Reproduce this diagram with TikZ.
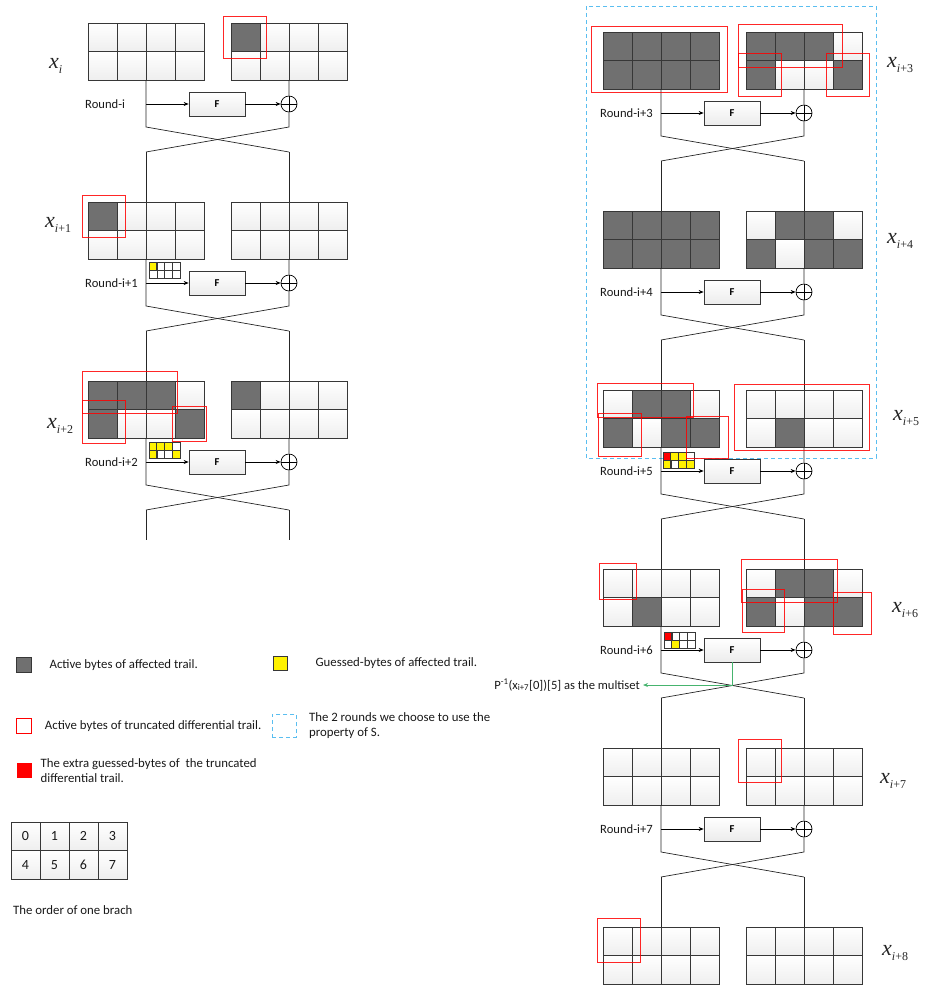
\documentclass[tikz,border=0pt]{standalone}
\usepackage{fontspec}
\setmainfont{Carlito}
\newfontfamily\statefont{Liberation Serif}
\usepackage{tikz}
\usetikzlibrary{positioning,arrows.meta,shapes}

\definecolor{activegray}{RGB}{112,112,112}
\definecolor{cellline}{RGB}{55,55,55}
\definecolor{roundcyan}{RGB}{90,190,240}
\definecolor{pathgreen}{RGB}{70,180,110}

% one branch: 4x2 bytes, #4 = active bytes
\newcommand{\branchblock}[4]{%
  \node[blockbox, anchor=north west] (#1) at (#2,#3) {};
  \foreach \cn in {0,...,7}{%
    \pgfmathsetmacro{\bx}{#2+29*mod(\cn,4)}%
    \pgfmathsetmacro{\by}{#3+28.5*int(\cn/4)}%
    \draw[cellbox] (\bx,\by) rectangle ++(29,28.5);}%
  \foreach \cn in {#4}{\ifx\cn\empty\else
    \pgfmathsetmacro{\bx}{#2+29*mod(\cn,4)}%
    \pgfmathsetmacro{\by}{#3+28.5*int(\cn/4)}%
    \draw[activecell] (\bx,\by) rectangle ++(29,28.5);\fi}%
}
% small grid of guessed bytes, #4 = yellow, #5 = red
\newcommand{\guessgrid}[5]{%
  \node[rectangle, minimum width=31pt, minimum height=16pt, inner sep=0pt,
        anchor=north west] (#1) at (#2,#3) {};
  \foreach \cn in {0,...,7}{%
    \pgfmathsetmacro{\gx}{#2+7.75*mod(\cn,4)}%
    \pgfmathsetmacro{\gy}{#3+8*int(\cn/4)}%
    \draw[guesscell] (\gx,\gy) rectangle ++(7.75,8);}%
  \foreach \cn in {#4}{\ifx\cn\empty\else
    \pgfmathsetmacro{\gx}{#2+7.75*mod(\cn,4)}%
    \pgfmathsetmacro{\gy}{#3+8*int(\cn/4)}%
    \draw[guessed] (\gx,\gy) rectangle ++(7.75,8);\fi}%
  \foreach \cn in {#5}{\ifx\cn\empty\else
    \pgfmathsetmacro{\gx}{#2+7.75*mod(\cn,4)}%
    \pgfmathsetmacro{\gy}{#3+8*int(\cn/4)}%
    \draw[extraguess] (\gx,\gy) rectangle ++(7.75,8);\fi}%
}
% state name x with subscript
\newcommand{\statename}[1]{\textit{x}\raisebox{-5pt}{\fontsize{12}{12}\selectfont #1}}

\begin{document}
\begin{tikzpicture}[x=1pt, y=-1pt,
    blockbox/.style={rectangle, minimum width=116pt, minimum height=57pt, inner sep=0pt, outer sep=0pt},
    cellbox/.style={draw=cellline, line width=0.8pt, top color=white, bottom color=gray!13},
    activecell/.style={draw=cellline, line width=0.8pt, fill=activegray},
    guesscell/.style={draw=cellline, line width=0.5pt, fill=white},
    guessed/.style={draw=cellline, line width=0.6pt, fill=yellow},
    extraguess/.style={draw=cellline, line width=0.6pt, fill=red},
    fbox/.style={rectangle, draw=cellline, line width=0.7pt, top color=white, bottom color=gray!15,
                 minimum width=56pt, minimum height=24pt, inner sep=0pt,
                 font=\fontsize{10.5}{12}\selectfont\bfseries},
    xor/.style={circle, draw, line width=0.7pt, minimum size=16pt, inner sep=0pt,
                path picture={\draw[line width=0.7pt] (path picture bounding box.north) -- (path picture bounding box.south)
                              (path picture bounding box.west) -- (path picture bounding box.east);}},
    arrow/.style={-{Stealth[length=5pt, width=4pt]}, line width=0.7pt},
    garrow/.style={-{Stealth[length=5pt, width=4pt]}, draw=pathgreen, line width=0.9pt},
    wire/.style={line width=0.7pt, draw=black!85},
    trunc/.style={draw=red, line width=0.9pt, opacity=0.85},
    roundlbl/.style={font=\fontsize{12.6}{14}\selectfont, text=black!90, anchor=west, inner sep=0pt},
    statelbl/.style={font=\statefont\fontsize{22}{22}\selectfont, text=black!85, anchor=base west, inner sep=0pt},
    legendtxt/.style={font=\fontsize{12.8}{15}\selectfont, text=black!90, anchor=west, inner sep=0pt, align=left},
    digit/.style={font=\fontsize{14}{14}\selectfont, text=black!90, inner sep=0pt}
]
\useasboundingbox (0,0) rectangle (926,994);

% The 2 rounds that use the property of S
\draw[roundcyan, line width=0.9pt, dash pattern=on 4pt off 3pt] (586,6) rectangle (876,458);

% Blocks - left column
\branchblock{bl0}{88}{23}{}
\branchblock{br0}{231}{23}{0}
\branchblock{bl1}{88}{202}{0}
\branchblock{br1}{231}{202}{}
\branchblock{bl2}{88}{381}{0,1,2,4,7}
\branchblock{br2}{231}{381}{0}

% Blocks - right column
\branchblock{bl3}{603}{32}{0,...,7}
\branchblock{br3}{746}{32}{0,1,2,4,7}
\branchblock{bl4}{603}{211}{0,...,7}
\branchblock{br4}{746}{211}{1,2,4,6,7}
\branchblock{bl5}{603}{390}{1,2,4,6,7}
\branchblock{br5}{746}{390}{5}
\branchblock{bl6}{603}{569}{5}
\branchblock{br6}{746}{569}{1,2,4,6,7}
\branchblock{bl7}{603}{748}{}
\branchblock{br7}{746}{748}{}
\branchblock{bl8}{603}{927}{}
\branchblock{br8}{746}{927}{}

% State labels
\node[statelbl] (xs0) at (49,68) {\statename{\itshape i}};
\node[statelbl] (xs1) at (45,227) {\statename{\itshape i\upshape+1}};
\node[statelbl] (xs2) at (47,428) {\statename{\itshape i\upshape+2}};
\node[statelbl] (xs3) at (887,67) {\statename{\itshape i\upshape+3}};
\node[statelbl] (xs4) at (887,243) {\statename{\itshape i\upshape+4}};
\node[statelbl] (xs5) at (893,420) {\statename{\itshape i\upshape+5}};
\node[statelbl] (xs6) at (892,612) {\statename{\itshape i\upshape+6}};
\node[statelbl] (xs7) at (880,783) {\statename{\itshape i\upshape+7}};
\node[statelbl] (xs8) at (882,955) {\statename{\itshape i\upshape+8}};

% Rounds: F, xor and the swap
\foreach \r/\lx/\ty/\rname in {0/146/23/i, 1/146/202/i+1, 2/146/381/i+2, 3/661/32/i+3,
    4/661/211/i+4, 5/661/390/i+5, 6/661/569/i+6, 7/661/748/i+7}{
  \node[fbox] (f\r) at (\lx+71,\ty+81) {F};
  \node[xor] (xor\r) at (\lx+143,\ty+81) {};
  \node[roundlbl] (rd\r) at (\lx-61,\ty+81) {Round-\rname};
  \coordinate (tap\r) at (\lx,\ty+81);
  \coordinate (cl\r) at (\lx,\ty+104);
  \coordinate (cr\r) at (\lx+143,\ty+104);
  \coordinate (dl\r) at (\lx,\ty+129);
  \coordinate (dr\r) at (\lx+143,\ty+129);
  \draw[arrow] (tap\r) -- (f\r);
  \draw[arrow] (f\r) -- (xor\r);
  \draw[wire] (bl\r.south) -- (cl\r) -- (dr\r);
  \draw[wire] (br\r.south) -- (xor\r) -- (cr\r) -- (dl\r);
}
\foreach \r/\nx in {0/1, 1/2, 3/4, 4/5, 5/6, 6/7, 7/8}{
  \draw[wire] (dl\r) -- (bl\nx.north);
  \draw[wire] (dr\r) -- (br\nx.north);
}
% left column runs on
\coordinate (endl) at (146,540);
\coordinate (endr) at (289,540);
\draw[wire] (dl2) -- (endl);
\draw[wire] (dr2) -- (endr);

% Guessed bytes
\guessgrid{gg1}{149}{262}{0}{}
\guessgrid{gg2}{149}{442}{0,1,2,4,7}{}
\guessgrid{gg5}{663}{452}{1,2,4,6,7}{0}
\guessgrid{gg6}{664}{632}{5}{0}

% Truncated differential trail
\draw[trunc] (223,16) rectangle (266,58);
\draw[trunc] (82,195) rectangle (125,237);
\draw[trunc] (82,371) rectangle (177,413);
\draw[trunc] (82,400) rectangle (125,443);
\draw[trunc] (172,406) rectangle (206,441);
\draw[trunc] (591,26) rectangle (727,92);
\draw[trunc] (738,24) rectangle (842,67);
\draw[trunc] (738,53) rectangle (781,96);
\draw[trunc] (826,53) rectangle (869,96);
\draw[trunc] (597,383) rectangle (693,417);
\draw[trunc] (598,413) rectangle (641,456);
\draw[trunc] (686,416) rectangle (728,458);
\draw[trunc] (734,384) rectangle (869,450);
\draw[trunc] (599,563) rectangle (636,599);
\draw[trunc] (741,559) rectangle (837,602);
\draw[trunc] (742,589) rectangle (784,632);
\draw[trunc] (833,592) rectangle (871,634);
\draw[trunc] (738,739) rectangle (781,782);
\draw[trunc] (597,918) rectangle (640,962);

% Multiset taken after F
\node[roundlbl, anchor=east, inner xsep=3pt] (mset) at (643,685)
    {P\textsuperscript{-1}(x\textsubscript{i+7}[0])[5] as the multiset};
\draw[garrow] (f6.south) |- (mset);

% Legend
\node[draw=cellline, fill=activegray, minimum size=15pt, inner sep=0pt, anchor=north west] (lgact) at (16,657) {};
\node[legendtxt, right=18pt of lgact] (lgacttxt) {Active bytes of affected trail.};
\node[draw=cellline, fill=yellow, minimum size=14pt, inner sep=0pt, anchor=north west] (lgguess) at (273,656) {};
\node[legendtxt, right=28pt of lgguess] (lgguesstxt) {Guessed-bytes of affected trail.};
\node[draw=red, line width=0.8pt, minimum size=15pt, inner sep=0pt, anchor=north west] (lgtrunc) at (16,718) {};
\node[legendtxt, right=13pt of lgtrunc] (lgtrunctxt) {Active bytes of truncated differential trail.};
\node[draw=roundcyan, line width=0.9pt, dash pattern=on 4pt off 3pt, minimum width=24pt, minimum height=23pt,
      inner sep=0pt, anchor=north west] (lgrounds) at (272,714) {};
\node[legendtxt, right=12pt of lgrounds] (lgroundstxt) {The 2 rounds we choose to use the\\property of S.};
\node[fill=red, minimum size=15pt, inner sep=0pt, anchor=north west] (lgextra) at (17,763) {};
\node[legendtxt, right=8pt of lgextra] (lgextratxt) {The extra guessed-bytes of \ the truncated\\differential trail.};

% Byte order
\branchblock{order}{11}{822}{}
\foreach \n in {0,...,7}{
  \node[digit] (n\n) at ({25.5+29*mod(\n,4)},{836.25+28.5*int(\n/4)}) {\n};
}
\node[legendtxt] (ordertxt) at (13,910) {The order of one brach};

\end{tikzpicture}
\end{document}
